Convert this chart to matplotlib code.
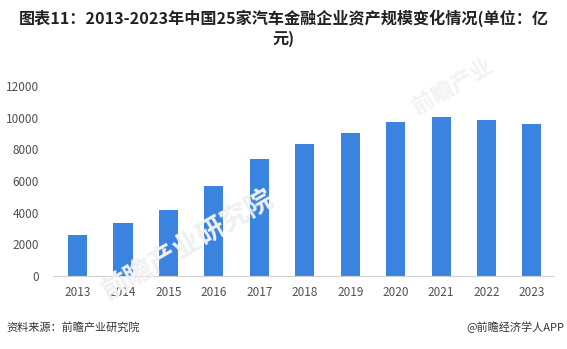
import matplotlib
matplotlib.use("Agg")
import matplotlib.pyplot as plt

plt.rcParams['font.family'] = ['Noto Sans CJK SC', 'DejaVu Sans']

years = ['2013', '2014', '2015', '2016', '2017', '2018', '2019', '2020', '2021', '2022', '2023']
assets = [2590, 3350, 4170, 5690, 7400, 8350, 9050, 9750, 10060, 9870, 9620]
yticks = [0, 2000, 4000, 6000, 8000, 10000, 12000]

fig = plt.figure(figsize=(5.67, 3.49), dpi=100)
ax = fig.add_axes([0.0935, 0.209, 0.8815, 0.545])

x = range(len(years))
ax.bar(x, assets, width=0.42, color='#3a84e0', zorder=2)

ax.set_xlim(-0.54, 10.46)
ax.set_ylim(0, 12000)
ax.set_yticks(yticks)
ax.set_xticks(list(x))
ax.set_xticklabels(years)
for s in ['top', 'right', 'left']:
    ax.spines[s].set_visible(False)
ax.spines['bottom'].set_color('#d0d0d0')
ax.tick_params(axis='both', length=0, labelsize=8.5, labelcolor='#505050')
ax.tick_params(axis='y', pad=10)
ax.tick_params(axis='x', pad=7)

# faint watermarks
fig.text(0.33, 0.30, '前瞻产业研究院', fontsize=20, color='#f0f0f0', rotation=30,
         ha='center', va='center', zorder=0, fontweight='bold')
fig.text(0.80, 0.75, '前瞻产业', fontsize=16, color='#f2f2f2', rotation=30,
         ha='center', va='center', zorder=0, fontweight='bold')

fig.text(0.5, 0.948, '图表11：2013-2023年中国25家汽车金融企业资产规模变化情况(单位：亿',
         ha='center', va='center', fontsize=11.6, fontweight='bold', color='#222222')
fig.text(0.5, 0.89, '元)', ha='center', va='center', fontsize=11.6,
         fontweight='bold', color='#222222')

fig.text(0.012, 0.063, '资料来源：前瞻产业研究院', ha='left', va='center',
         fontsize=8, color='#333333')
fig.text(0.995, 0.063, '@前瞻经济学人APP', ha='right', va='center',
         fontsize=8, color='#333333')

fig.savefig('out.png', dpi=100)
